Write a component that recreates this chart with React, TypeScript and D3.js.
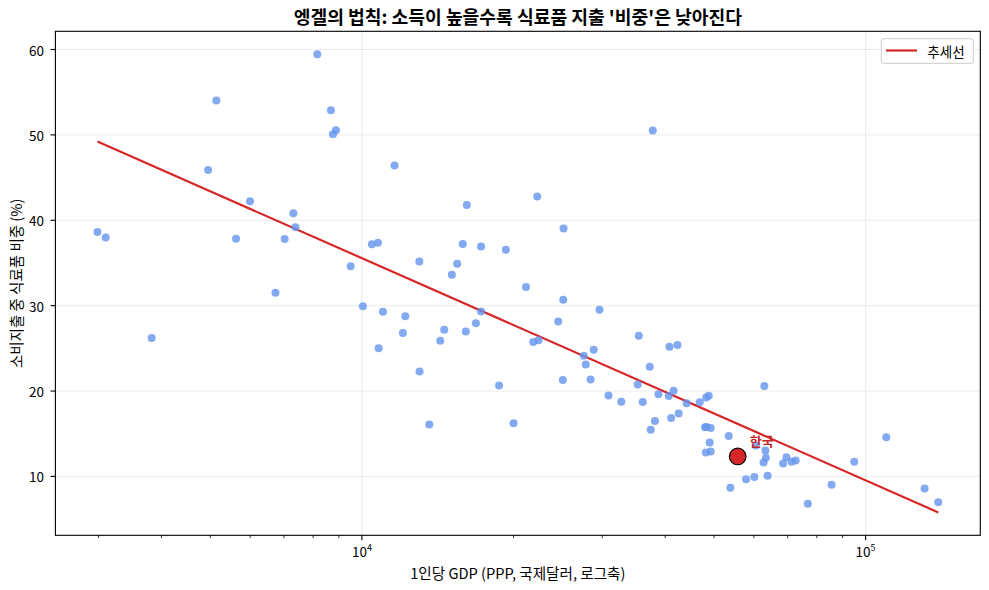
import React from "react";
import * as d3 from "d3";

const titleText = "엥겔의 법칙: 소득이 높을수록 식료품 지출 '비중'은 낮아진다";
const xLabel = "1인당 GDP (PPP, 국제달러, 로그축)";
const yLabel = "소비지출 중 식료품 비중 (%)";
const legendLabel = "추세선";
const koreaLabel = "한국";

const gdpPerCapita = [
  2985, 3100, 3825, 4950, 5140, 5625, 5995, 6735, 7025, 7310, 7380, 8155, 8680, 8760, 8880, 9500,
  10045, 10465, 10760, 10795, 11010, 11610, 12060, 12195, 13000, 13015, 13605, 14305, 14570, 15085,
  15460, 15860, 16080, 16155, 16835, 17240, 17240, 18720, 19310, 20000, 21175, 21885, 22285, 22420,
  24530, 25050, 25100, 25135, 27575, 27825, 28435, 28850, 29625, 30870, 32730, 35285, 35450, 36100,
  37275, 37445, 37795, 38170, 38790, 40655, 40785, 41105, 41570, 42305, 42540, 44120, 46840, 48005,
  48340, 48185, 48230, 48810, 49015, 49260, 49260, 53480, 53890, 57890, 60130, 60535, 62950, 63240,
  63385, 62720, 63885, 68580, 69630, 71290, 72630, 76790, 85590, 94930, 109920, 130950, 139380,
];

const foodShare = [
  38.63, 37.97, 26.2, 45.89, 54.03, 37.85, 42.22, 31.52, 37.81, 40.82, 39.18, 59.45, 52.89, 50.08, 50.55, 34.61,
  29.92, 37.18, 37.38, 25.0, 29.3, 46.41, 26.79, 28.75, 35.16, 22.3, 16.09, 25.9, 27.17, 33.61,
  34.92, 37.22, 26.97, 41.79, 27.95, 36.92, 29.31, 20.64, 36.56, 16.24, 32.2, 25.74, 42.78, 25.96,
  28.14, 21.28, 30.7, 39.03, 24.14, 23.1, 21.36, 24.84, 29.53, 19.47, 18.75, 20.78, 26.49, 18.73,
  22.85, 15.48, 50.51, 16.48, 19.61, 19.41, 25.2, 16.85, 20.02, 25.38, 17.38, 18.58, 18.69, 15.77,
  15.8, 12.81, 19.25, 19.45, 13.96, 15.68, 12.93, 14.74, 8.67, 9.68, 9.94, 13.63, 20.58, 13.04,
  12.19, 11.64, 10.08, 11.5, 12.25, 11.72, 11.87, 6.81, 9.02, 11.72, 14.6, 8.59, 6.98,
];

const koreaGdp = 55720;
const koreaShare = 12.34;

// trend: share = intercept + slope * log10(gdp)
const trendIntercept = 139.64;
const trendSlope = -26.02;

const yTicks = [10, 20, 30, 40, 50, 60];
const xMajorTicks = [10000, 100000];
const xMajorExponents = ["4", "5"];
const xMinorTicks = [3000, 4000, 5000, 6000, 7000, 8000, 9000, 20000, 30000, 40000, 50000, 60000, 70000, 80000, 90000];

const W = 989;
const H = 590;
const M = { left: 55.4, right: 980.3, top: 31.3, bottom: 535.3 };
const FONT = "'Noto Sans CJK KR', 'Noto Sans', sans-serif";

export default function App() {
  const allX = [...gdpPerCapita, koreaGdp];
  const xMin = d3.min(allX) as number;
  const xMax = d3.max(allX) as number;
  const trend = (g: number) => trendIntercept + trendSlope * Math.log10(g);
  const trendPts = [xMin, xMax].map((g) => [g, trend(g)] as [number, number]);

  const lx0 = Math.log10(xMin);
  const lx1 = Math.log10(xMax);
  const lpad = (lx1 - lx0) * 0.05;
  const x = d3.scaleLog().domain([Math.pow(10, lx0 - lpad), Math.pow(10, lx1 + lpad)]).range([M.left, M.right]);

  const allY = [...foodShare, koreaShare, ...trendPts.map((p) => p[1])];
  const y0 = d3.min(allY) as number;
  const y1 = d3.max(allY) as number;
  const ypad = (y1 - y0) * 0.05;
  const y = d3.scaleLinear().domain([y0 - ypad, y1 + ypad]).range([M.bottom, M.top]);

  const line = d3
    .line<[number, number]>()
    .x((d) => x(d[0]))
    .y((d) => y(d[1]));

  const points = gdpPerCapita.map((g, i) => ({ g, s: foodShare[i] }));
  const red = "#d62728";
  const cx = (M.left + M.right) / 2;
  const cy = (M.top + M.bottom) / 2;

  return (
    <svg width={W} height={H} style={{ position: "absolute", left: 0, top: 0, background: "#fff" }} fontFamily={FONT}>
      <rect x={0} y={0} width={W} height={H} fill="#fff" />
      {/* grid */}
      {yTicks.map((t) => (
        <line key={"gy" + t} x1={M.left} x2={M.right} y1={y(t)} y2={y(t)} stroke="#b0b0b0" strokeOpacity={0.3} strokeWidth={0.8} />
      ))}
      {xMajorTicks.map((t) => (
        <line key={"gx" + t} x1={x(t)} x2={x(t)} y1={M.top} y2={M.bottom} stroke="#b0b0b0" strokeOpacity={0.3} strokeWidth={0.8} />
      ))}

      {/* trend line */}
      <path d={line(trendPts) || ""} fill="none" stroke={red} strokeWidth={2.2} />

      {/* points */}
      {points.map((p, i) => (
        <circle key={i} cx={x(p.g)} cy={y(p.s)} r={4} fill="#6495ED" opacity={0.8} />
      ))}

      {/* Korea */}
      <circle cx={x(koreaGdp)} cy={y(koreaShare)} r={8.3} fill={red} stroke="#000" strokeWidth={1.2} />
      <text x={x(koreaGdp) + 12} y={y(koreaShare) - 16} fontSize={13} fontWeight="bold" fill="#c62828" dominantBaseline="central">
        {koreaLabel}
      </text>

      {/* spines */}
      <rect x={M.left} y={M.top} width={M.right - M.left} height={M.bottom - M.top} fill="none" stroke="#000" strokeWidth={1.1} />

      {/* y ticks */}
      {yTicks.map((t) => (
        <g key={"ty" + t}>
          <line x1={M.left - 4.9} x2={M.left} y1={y(t)} y2={y(t)} stroke="#000" strokeWidth={1.1} />
          <text x={M.left - 11.5} y={y(t)} textAnchor="end" dominantBaseline="central" fontSize={13.5} fill="#000">
            {t}
          </text>
        </g>
      ))}

      {/* x ticks */}
      {xMinorTicks.map((t) => (
        <line key={"mx" + t} x1={x(t)} x2={x(t)} y1={M.bottom} y2={M.bottom + 2.8} stroke="#000" strokeWidth={0.8} />
      ))}
      {xMajorTicks.map((t, i) => (
        <g key={"tx" + t}>
          <line x1={x(t)} x2={x(t)} y1={M.bottom} y2={M.bottom + 4.9} stroke="#000" strokeWidth={1.1} />
          <text x={x(t)} y={556.5} textAnchor="middle" fontSize={13.5} fill="#000">
            10
            <tspan fontSize={9} dy={-6}>
              {xMajorExponents[i]}
            </tspan>
          </text>
        </g>
      ))}

      {/* axis labels */}
      <text x={cx} y={572.5} textAnchor="middle" dominantBaseline="central" fontSize={14.6} fill="#000">
        {xLabel}
      </text>
      <text transform={`translate(15, ${cy}) rotate(-90)`} textAnchor="middle" dominantBaseline="central" fontSize={14.5} fill="#000">
        {yLabel}
      </text>

      {/* title */}
      <text x={cx} y={15.5} textAnchor="middle" dominantBaseline="central" fontSize={18.2} fontWeight="bold" fill="#000">
        {titleText}
      </text>

      {/* legend */}
      <rect x={881.3} y={38.7} width={92} height={24.6} rx={2.5} fill="#fff" fillOpacity={0.8} stroke="#cccccc" strokeWidth={1} />
      <line x1={886} x2={917} y1={50.5} y2={50.5} stroke={red} strokeWidth={2.2} />
      <text x={927.3} y={50.8} dominantBaseline="central" fontSize={13.5} fill="#000">
        {legendLabel}
      </text>
    </svg>
  );
}
